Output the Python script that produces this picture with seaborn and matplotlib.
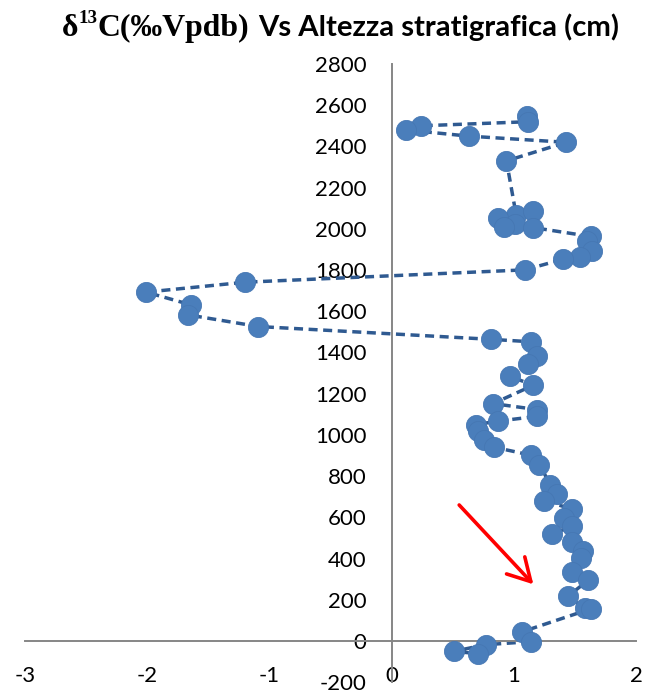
import matplotlib
matplotlib.use("Agg")
import matplotlib.pyplot as plt
import numpy as np
import pandas as pd
import seaborn as sns

# Stratigraphic height (cm) and carbon isotope values (‰ VPDB), top to bottom
height = [2550, 2520, 2500, 2480, 2450, 2420, 2330, 2065, 2085, 2055, 2023, 2011,
          2006, 1963, 1940, 1893, 1861, 1852, 1801, 1741, 1693, 1631, 1583, 1526,
          1464, 1452, 1382, 1343, 1284, 1241, 1152, 1123, 1090, 1067, 1050, 1017,
          977, 940, 902, 856, 757, 714, 680, 640, 597, 557, 519, 479, 437, 401,
          336, 295, 216, 160, 156, 45, -3, -18, -50, -62]
d13c = [1.11, 1.12, 0.24, 0.12, 0.63, 1.43, 0.94, 1.02, 1.16, 0.87, 1.01, 0.92,
        1.16, 1.63, 1.60, 1.64, 1.54, 1.40, 1.09, -1.20, -2.01, -1.64, -1.67, -1.09,
        0.81, 1.14, 1.19, 1.12, 0.97, 1.16, 0.83, 1.19, 1.19, 0.87, 0.69, 0.71,
        0.76, 0.84, 1.14, 1.21, 1.30, 1.35, 1.25, 1.48, 1.41, 1.48, 1.31, 1.48, 1.57, 1.55,
        1.48, 1.61, 1.44, 1.58, 1.63, 1.07, 1.14, 0.77, 0.51, 0.71]

x_ticks = [-3, -2, -1, 0, 1, 2]
y_ticks = list(range(-200, 2801, 200))

LINE_COLOR = "#2F5A91"
MARKER_COLOR = "#4A7EBB"
AXIS_COLOR = "#868686"

sns.set_theme(style="white")
plt.rcParams["font.family"] = ["Lato", "DejaVu Sans"]
plt.rcParams["axes.unicode_minus"] = False

df = pd.DataFrame({"d13C": d13c, "height": height})

fig = plt.figure(figsize=(6.45, 6.93), dpi=100)
ax = fig.add_axes([25 / 645, 1 - 682.2 / 693, 611 / 645, (682.2 - 64) / 693])

sns.lineplot(data=df, x="d13C", y="height", sort=False, estimator=None, ax=ax,
             color=LINE_COLOR, linewidth=2.5, linestyle=(0, (2.6, 1.6)), zorder=2)
sns.scatterplot(data=df, x="d13C", y="height", ax=ax, s=210, color=MARKER_COLOR,
                edgecolor="#4677B3", linewidth=0.6, zorder=3)

ax.set_xlim(-3, 2)
ax.set_ylim(-200, 2800)
ax.set_xticks(x_ticks)
ax.set_yticks(y_ticks)
ax.set_xlabel("")
ax.set_ylabel("")

for side in ("top", "right"):
    ax.spines[side].set_visible(False)
for side in ("left", "bottom"):
    ax.spines[side].set_position(("data", 0))
    ax.spines[side].set_color(AXIS_COLOR)
    ax.spines[side].set_linewidth(1.4)
ax.tick_params(axis="both", direction="out", length=6, width=1.2, color=AXIS_COLOR,
               labelsize=16, labelcolor="black", pad=12)

# red arrow pointing at the base of the section
ax.annotate("", xy=(1.16, 275), xytext=(0.553, 660),
            arrowprops=dict(arrowstyle="->,head_length=0.8,head_width=0.45",
                            color="#FF0000", lw=2.6, mutation_scale=20,
                            shrinkA=0, shrinkB=0), zorder=4)

# title: serif isotope symbol followed by sans-serif text
renderer = fig.canvas.get_renderer()
px_w, px_h = fig.bbox.width, fig.bbox.height
base_y = 1 - 36 / px_h
serif = dict(family="Liberation Serif", fontweight="bold", color="black")


def serif_part(size):
    t1 = fig.text(62 / px_w, base_y, "δ", fontsize=size, va="baseline", ha="left", **serif)
    x1 = t1.get_window_extent(renderer).x1
    t2 = fig.text(x1 / px_w, base_y + 0.40 * size / 72 * 100 / px_h, "13",
                  fontsize=size * 0.6, va="baseline", ha="left", **serif)
    x2 = t2.get_window_extent(renderer).x1
    t3 = fig.text(x2 / px_w, base_y, "C(‰Vpdb)", fontsize=size, va="baseline",
                  ha="left", **serif)
    return [t1, t2, t3], t3.get_window_extent(renderer).x1 - 62


parts, w = serif_part(22)
for t in parts:
    t.remove()
serif_part(22 * 187 / w)

t4 = fig.text(258 / px_w, base_y, "Vs Altezza stratigrafica (cm)", fontsize=18,
              va="baseline", ha="left", family=["Lato", "DejaVu Sans"],
              fontweight="bold", color="black")
t4.set_fontsize(18 * 362 / t4.get_window_extent(renderer).width)

fig.savefig("out.png", dpi=100, facecolor="white")
